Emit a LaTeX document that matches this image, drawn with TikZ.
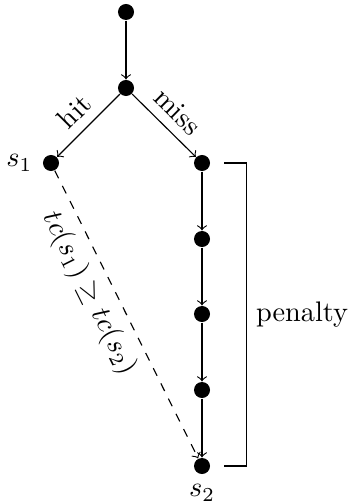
\documentclass[tikz,border=0pt]{standalone}
\begin{document}
\begin{tikzpicture}[x=0.3534pt,y=-0.3534pt,
  dot/.style={circle,fill,inner sep=2pt},
  >=to]
\useasboundingbox (0,0) rectangle (350,502);
\node[dot] (a) at (126,12) {};
\node[dot] (b) at (126,88) {};
\node[dot,label=left:$s_1$] (s1) at (51,163) {};
\node[dot] (c) at (202,163) {};
\node[dot] (d) at (202,239) {};
\node[dot] (e) at (202,314) {};
\node[dot] (f) at (202,390) {};
\node[dot,label=below:$s_2$] (s2) at (202,466) {};
\draw[->] (a) -- (b);
\draw[->] (b) -- node[above,sloped]{hit} (s1);
\draw[->] (b) -- node[above,sloped]{miss} (c);
\draw[->] (c) -- (d);
\draw[->] (d) -- (e);
\draw[->] (e) -- (f);
\draw[->] (f) -- (s2);
\draw[->,dashed] (s1) -- node[below,sloped,pos=0.39]{$tc(s_1)\geq tc(s_2)$} (s2);
\draw ([xshift=7.8pt]c.center) -- ([xshift=15.6pt]c.center)
  -- node[right]{penalty} ([xshift=15.6pt]s2.center) -- ([xshift=7.8pt]s2.center);
\end{tikzpicture}
\end{document}
